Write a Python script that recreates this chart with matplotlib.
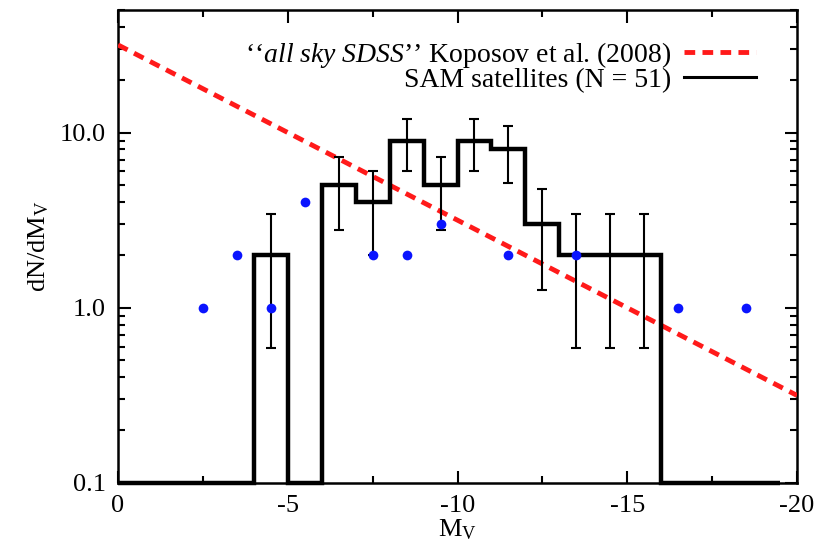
import numpy as np
import matplotlib
matplotlib.use('Agg')
import matplotlib.pyplot as plt
from matplotlib.ticker import FixedLocator, FixedFormatter, LogLocator, NullFormatter

plt.rcParams['font.family'] = 'Liberation Serif'
plt.rcParams['mathtext.fontset'] = 'custom'
plt.rcParams['mathtext.rm'] = 'Liberation Serif'
plt.rcParams['mathtext.it'] = 'Liberation Serif:italic'

# SAM satellite histogram (counts per 1 mag bin)
sam_edges = [0, -1, -2, -3, -4, -5, -6, -7, -8, -9, -10, -11, -12, -13, -14,
             -15, -16, -17, -18, -19, -19.5]
sam_counts = [0, 0, 0, 0, 2, 0, 5, 4, 9, 5, 9, 8, 3, 2, 2, 2, 0, 0, 0, 0]

# observed satellites (blue dots)
mw_mv = [-2.5, -3.5, -4.5, -5.5, -7.5, -8.5, -9.5, -11.5, -13.5, -16.5, -18.5]
mw_n = [1, 2, 1, 4, 2, 2, 3, 2, 2, 1, 1]

# Koposov et al. (2008) luminosity function, end points
kop_mv = [0, -20]
kop_n = [31.6, 0.316]

ymin, ymax = 0.1, 50

fig = plt.figure(figsize=(8.22, 5.53), dpi=100)
ax = fig.add_axes([0.1436, 0.1266, 0.8260, 0.8553])
ax.set_yscale('log')
ax.set_xlim(0, -20)
ax.set_ylim(ymin, ymax)

edges = np.array(sam_edges, dtype=float)
counts = np.array(sam_counts, dtype=float)
ax.stairs(np.maximum(counts, ymin), edges, baseline=None, color='black',
          lw=3.2, clip_on=False, zorder=4)

centers = 0.5 * (edges[:-1] + edges[1:])
nz = counts > 0
ax.errorbar(centers[nz], counts[nz], yerr=np.sqrt(counts[nz]), fmt='none',
            ecolor='black', elinewidth=1.5, capsize=3.5, capthick=1.5, zorder=5)

ax.plot(mw_mv, mw_n, 'o', color='#0a14ff', ms=7, mec='none', zorder=6)

kop_line, = ax.plot(kop_mv, kop_n, color='#ff1a1a', lw=3.5,
                    linestyle=(0, (2.2, 1.5)), zorder=3)
sam_line, = ax.plot([], [], color='black', lw=2.2)

ax.legend([kop_line, sam_line],
          ['\u2018\u2018$\\it{all\\ sky\\ SDSS}$\u2019\u2019 Koposov et al. (2008)',
           'SAM satellites (N = 51)'],
          loc='upper right', bbox_to_anchor=(0.96, 0.967), frameon=False,
          markerfirst=False, fontsize=20, handlelength=2.6, handletextpad=0.45,
          labelspacing=-0.08, borderpad=0)

ax.xaxis.set_major_locator(FixedLocator([0, -5, -10, -15, -20]))
ax.xaxis.set_major_formatter(FixedFormatter(['0', '-5', '-10', '-15', '-20']))
ax.xaxis.set_minor_locator(FixedLocator([-2.5, -7.5, -12.5, -17.5]))
ax.yaxis.set_major_locator(FixedLocator([0.1, 1.0, 10.0]))
ax.yaxis.set_major_formatter(FixedFormatter(['0.1', '1.0', '10.0']))
ax.yaxis.set_minor_locator(LogLocator(base=10, subs=np.arange(2, 10)))
ax.yaxis.set_minor_formatter(NullFormatter())

ax.tick_params(which='both', direction='in', top=True, right=True,
               labelsize=19, width=1.5)
ax.tick_params(which='major', length=9, pad=9)
ax.tick_params(which='minor', length=5)
for s in ax.spines.values():
    s.set_linewidth(1.8)

ax.set_xlabel('M$_\\mathrm{V}$', fontsize=19, labelpad=0)
ax.set_ylabel('dN/dM$_\\mathrm{V}$', fontsize=19, labelpad=6)

fig.savefig('out.png', dpi=100)
